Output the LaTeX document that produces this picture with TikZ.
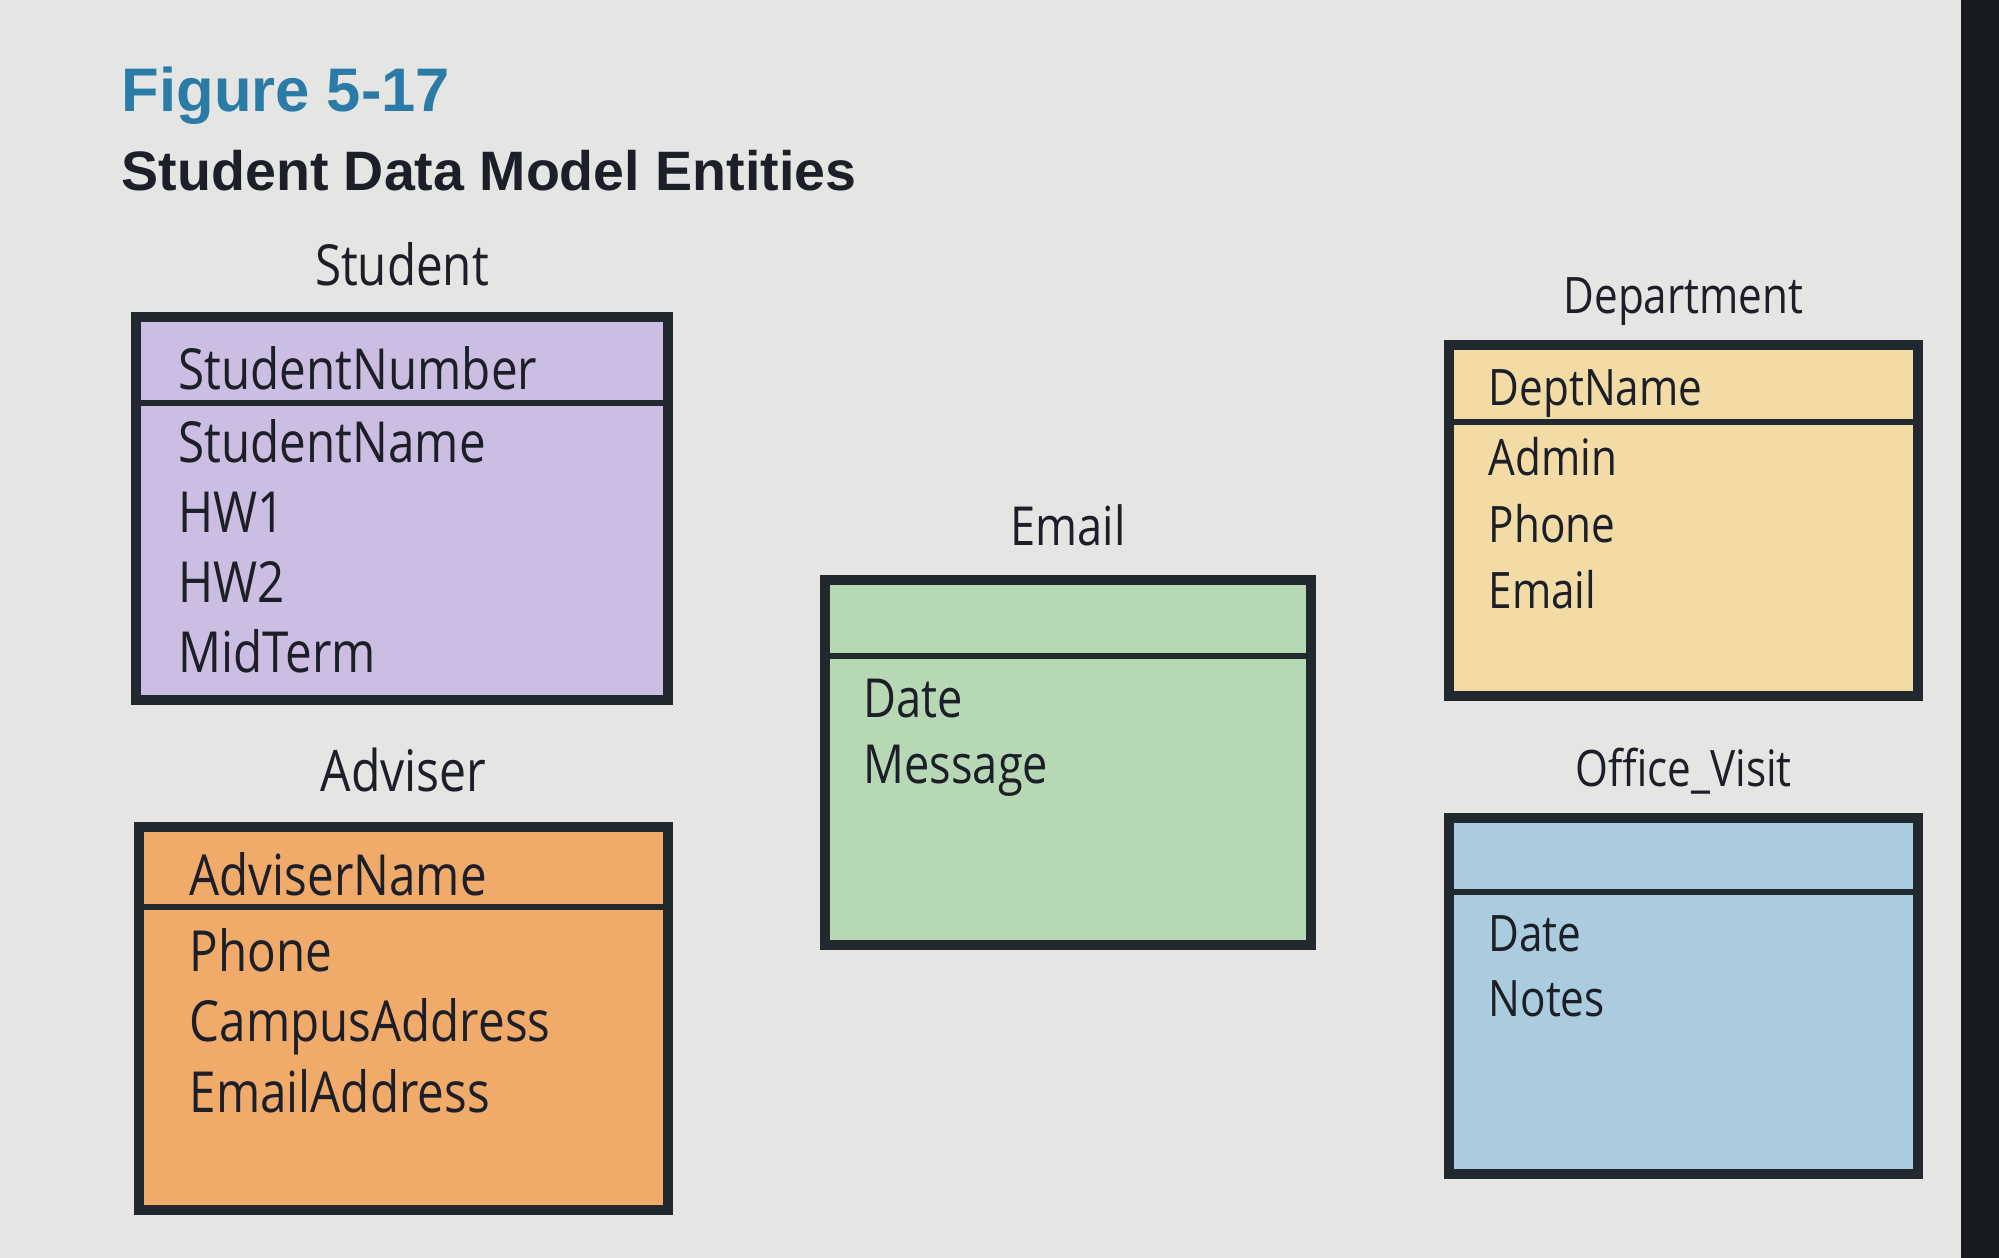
\documentclass[tikz,border=0pt]{standalone}
\usepackage{fontspec}
\setmainfont[FakeStretch=0.84]{Open Sans}
\newfontfamily\headfont{Liberation Sans}
\usepackage{xcolor}
\usepackage{tikz}
\usetikzlibrary{positioning}
\definecolor{bgpaper}{RGB}{229,229,227}
\definecolor{bezel}{RGB}{24,27,31}
\definecolor{figblue}{RGB}{42,124,166}
\definecolor{inkdark}{RGB}{28,31,40}
\definecolor{framedark}{RGB}{33,40,46}
\definecolor{stufill}{RGB}{204,189,226}
\definecolor{advfill}{RGB}{240,170,106}
\definecolor{emlfill}{RGB}{182,216,180}
\definecolor{depfill}{RGB}{242,219,165}
\definecolor{ofvfill}{RGB}{170,204,222}
\tikzset{
  entbox/.style   = {rectangle, draw=framedark, line width=2.8pt, inner sep=0pt},
  entname/.style  = {anchor=base, text=inkdark, inner sep=0pt,
                     font=\fontsize{#1}{#1}\selectfont},
  attrtext/.style = {anchor=base west, text=inkdark, inner sep=0pt,
                     font=\fontsize{#1}{#1}\selectfont},
  keyline/.style  = {draw=framedark, line width=1.8pt},
}

\begin{document}
\begin{tikzpicture}[x=0.01cm, y=-0.01cm]
  \useasboundingbox (0,0) rectangle (1999,1258);
  \fill[bgpaper] (0,0) rectangle (1999,1258);
  \fill[bezel] (1961,0) rectangle (1999,1258);

  \node[anchor=base west, inner sep=0pt, text=figblue,
        font=\headfont\bfseries\fontsize{17.5}{20}\selectfont] (fignum) at (121,112) {Figure 5-17};
  \node[anchor=base west, inner sep=0pt, text=inkdark,
        font=\headfont\bfseries\fontsize{15.8}{18}\selectfont] (figtitle) at (121,191) {Student Data Model Entities};

  % entity boxes
  \node[entbox, fill=stufill, minimum width=5.32cm, minimum height=3.83cm] (stu) at (402,508.5) {};
  \node[entbox, fill=advfill, minimum width=5.29cm, minimum height=3.83cm] (adv) at (403.5,1018.5) {};
  \node[entbox, fill=emlfill, minimum width=4.86cm, minimum height=3.65cm] (eml) at (1068,762.5) {};
  \node[entbox, fill=depfill, minimum width=4.69cm, minimum height=3.51cm] (dep) at (1683.5,520.5) {};
  \node[entbox, fill=ofvfill, minimum width=4.69cm, minimum height=3.56cm] (ofv) at (1683.5,996) {};

  \node[entname=16.1] (stu-t) at ([yshift=0.26cm]stu.north) {Student};
  \node[entname=16.3] (adv-t) at ([yshift=0.30cm]adv.north) {Adviser};
  \node[entname=15.3] (eml-t) at ([yshift=0.29cm]eml.north) {Email};
  \node[entname=14.3] (dep-t) at ([yshift=0.26cm]dep.north) {Department};
  \node[entname=14.3] (ofv-t) at ([yshift=0.26cm]ofv.north) {Office\_Visit};

  % key rows
  \draw[keyline] ([yshift=-0.91cm]stu.north west) -- ([yshift=-0.91cm]stu.north east);
  \draw[keyline] ([yshift=-0.85cm]adv.north west) -- ([yshift=-0.85cm]adv.north east);
  \draw[keyline] ([yshift=-0.81cm]eml.north west) -- ([yshift=-0.81cm]eml.north east);
  \draw[keyline] ([yshift=-0.82cm]dep.north west) -- ([yshift=-0.82cm]dep.north east);
  \draw[keyline] ([yshift=-0.79cm]ofv.north west) -- ([yshift=-0.79cm]ofv.north east);

  \node[attrtext=16.1] (stu-k) at (178,390) {StudentNumber};
  \node[attrtext=16.1] (adv-k) at (189,896) {AdviserName};
  \node[attrtext=14.3] (dep-k) at (1488,406) {DeptName};

  % attributes
  \foreach \t [count=\i from 0] in {StudentName,HW1,HW2,MidTerm}
    \node[attrtext=16.1] (stu-a\i) at (178,463+70*\i) {\t};
  \foreach \t [count=\i from 0] in {Phone,CampusAddress,EmailAddress}
    \node[attrtext=16.1] (adv-a\i) at (189,971+70.5*\i) {\t};
  \foreach \t [count=\i from 0] in {Date,Message}
    \node[attrtext=15.3] (eml-a\i) at (863,718+66*\i) {\t};
  \foreach \t [count=\i from 0] in {Admin,Phone,Email}
    \node[attrtext=14.3] (dep-a\i) at (1488,476+66.5*\i) {\t};
  \foreach \t [count=\i from 0] in {Date,Notes}
    \node[attrtext=14.3] (ofv-a\i) at (1488,951+65*\i) {\t};
\end{tikzpicture}
\end{document}
